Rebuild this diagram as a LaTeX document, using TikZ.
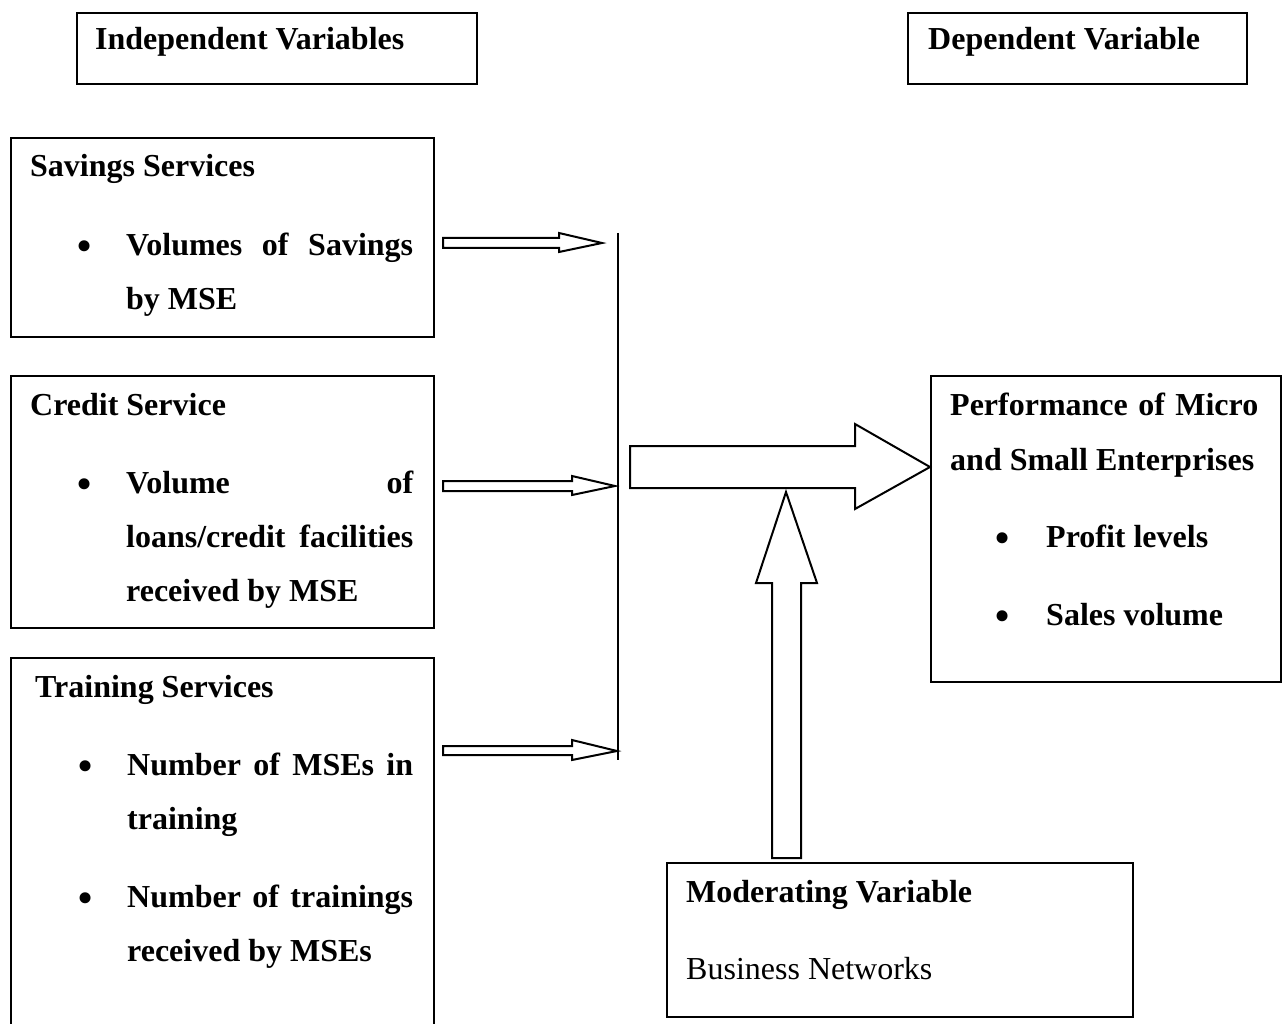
\documentclass[tikz,border=0pt]{standalone}
\usepackage{fontspec}
\setmainfont{Liberation Serif}
\begin{document}
\begin{tikzpicture}[x=1pt,y=-1pt,
  box/.style={draw,line width=2pt,anchor=north west,inner sep=0pt},
  txt/.style={anchor=base west,inner sep=0pt,font=\fontsize{32}{55}\selectfont\bfseries},
  rtxt/.style={anchor=base west,inner sep=0pt,font=\fontsize{32}{55}\selectfont},
  bul/.style={anchor=center,inner sep=0pt,font=\fontsize{46}{55}\selectfont},
  barrow/.style={draw,line width=2pt,line join=miter,fill=white}]
\useasboundingbox (0,0) rectangle (1284,1024);
% header boxes
\node[box,minimum width=400,minimum height=71] (ivb) at (76,12) {};
\node[txt] (ivt) at (95,50) {Independent Variables};
\node[box,minimum width=339,minimum height=71] (dvb) at (907,12) {};
\node[txt] (dvt) at (928,50) {Dependent Variable};
% savings
\node[box,minimum width=423,minimum height=199] (sav) at (10,137) {};
\node[txt] (savt) at (30,177) {Savings Services};
\node[bul] (savb) at (85,251) {•};
\node[txt] (sav1) at (126,255) {\makebox[287pt][s]{Volumes of Savings}};
\node[txt] (sav2) at (126,309) {by MSE};
% credit
\node[box,minimum width=423,minimum height=252] (cre) at (10,375) {};
\node[txt] (cret) at (30,415) {Credit Service};
\node[bul] (creb) at (85,489) {•};
\node[txt] (cre1) at (126,493) {\makebox[287pt][s]{Volume\hfill of}};
\node[txt] (cre2) at (126,547) {\makebox[287pt][s]{loans/credit facilities}};
\node[txt] (cre3) at (126,601) {received by MSE};
% training
\node[box,minimum width=423,minimum height=380] (tra) at (10,657) {};
\node[txt] (trat) at (35,697) {Training Services};
\node[bul] (trab1) at (86,771) {•};
\node[txt] (tra1) at (127,775) {\makebox[286pt][s]{Number of MSEs in}};
\node[txt] (tra2) at (127,829) {training};
\node[bul] (trab2) at (86,903) {•};
\node[txt] (tra3) at (127,907) {\makebox[286pt][s]{Number of trainings}};
\node[txt] (tra4) at (127,961) {received by MSEs};
% performance
\node[box,minimum width=350,minimum height=306] (per) at (930,375) {};
\node[txt] (pert1) at (950,415) {\makebox[308pt][s]{Performance of Micro}};
\node[txt] (pert2) at (950,470) {and Small Enterprises};
\node[bul] (perb1) at (1003,543) {•};
\node[txt] (per1) at (1046,547) {Profit levels};
\node[bul] (perb2) at (1003,621) {•};
\node[txt] (per2) at (1046,625) {Sales volume};
% moderating
\node[box,minimum width=466,minimum height=154] (mod) at (666,862) {};
\node[txt] (modt) at (686,902) {Moderating Variable};
\node[rtxt] (mod1) at (686,979) {Business Networks};
% collecting bar
\coordinate (bartop) at (618,233);
\coordinate (barbot) at (618,760);
\draw[line width=2pt] (bartop) -- (barbot);
% small arrows
\draw[barrow] (443,238) -- (559,238) -- (559,233) -- (602,243) -- (559,252) -- (559,248) -- (443,248) -- cycle;
\draw[barrow] (443,481) -- (572,481) -- (572,476) -- (615,486) -- (572,495) -- (572,491) -- (443,491) -- cycle;
\draw[barrow] (443,746) -- (572,746) -- (572,740) -- (617,751) -- (572,760) -- (572,755) -- (443,755) -- cycle;
% big arrow to performance
\draw[barrow] (630,446) -- (855,446) -- (855,424) -- (930,467) -- (855,509) -- (855,488) -- (630,488) -- cycle;
% upward arrow from moderating
\draw[barrow] (772,858) -- (772,583) -- (756,583) -- (786,492) -- (817,583) -- (801,583) -- (801,858) -- cycle;
\end{tikzpicture}
\end{document}
